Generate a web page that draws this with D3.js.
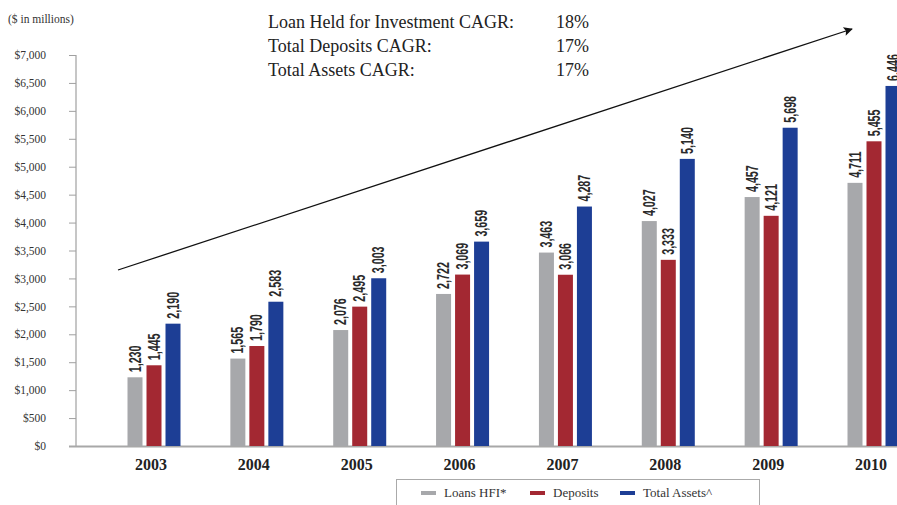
<!DOCTYPE html>
<html><head><meta charset="utf-8">
<script src="https://cdn.jsdelivr.net/npm/d3@7"></script>
<style>body{margin:0;background:#fff}svg{display:block}</style>
</head><body>
<script>
const years = ["2003","2004","2005","2006","2007","2008","2009","2010"];
const loans = [1230,1565,2076,2722,3463,4027,4457,4711];
const deposits = [1445,1790,2495,3069,3066,3333,4121,5455];
const assets = [2190,2583,3003,3659,4287,5140,5698,6446];
const seriesNames = ["Loans HFI*","Deposits","Total Assets^"];
const colors = ["#a7a8ab","#a32832","#1d3e95"];
const yTicks = [0,500,1000,1500,2000,2500,3000,3500,4000,4500,5000,5500,6000,6500,7000];
const cagrLabels = ["Loan Held for Investment CAGR:","Total Deposits CAGR:","Total Assets CAGR:"];
const cagrValues = ["18%","17%","17%"];

const W=897,H=505;
const svg=d3.select("body").append("svg").attr("width",W).attr("height",H);
const serif="'Liberation Serif','DejaVu Serif',serif";
const sans="'Liberation Sans',Arimo,sans-serif";

const y=d3.scaleLinear().domain([0,7000]).range([446,55]);
const x=d3.scalePoint().domain(years).range([154,874]);
const bw=15, step=19;
const series=[loans,deposits,assets];

// y axis
const yAxis=d3.axisLeft(y).tickValues(yTicks).tickSize(7).tickFormat(d=>"$"+d3.format(",")(d));
const ga=svg.append("g").attr("transform","translate(76,0)").call(yAxis);
ga.select(".domain").attr("stroke","#a0a0a0").attr("stroke-width",1.2).attr("d","M0,55V446");
ga.selectAll(".tick line").attr("stroke","#a0a0a0");
ga.selectAll(".tick text").attr("x",-30).attr("font-family",serif).attr("font-size",11.5).attr("fill","#333");

// baseline
svg.append("line").attr("x1",69).attr("x2",W).attr("y1",y(0)+0.5).attr("y2",y(0)+0.5).attr("stroke","#a8a8a8").attr("stroke-width",2);

// bars
series.forEach((vals,si)=>{
  const g=svg.append("g");
  g.selectAll("rect").data(vals).join("rect")
    .attr("x",(d,i)=>x(years[i])+(si-1)*step-bw/2)
    .attr("y",d=>y(d)).attr("width",bw).attr("height",d=>y(0)-y(d))
    .attr("fill",colors[si]);
  g.selectAll("text").data(vals).join("text")
    .attr("transform",(d,i)=>`translate(${x(years[i])+(si-1)*step+5.5},${y(d)-5}) rotate(-90) scale(0.67,1)`)
    .attr("font-family",sans).attr("font-size",16).attr("font-weight","bold")
    .attr("fill","#2a2a2a").text(d=>d3.format(",")(d));
});

// x labels
svg.append("g").selectAll("text").data(years).join("text")
  .attr("x",d=>x(d)-3).attr("y",470).attr("text-anchor","middle")
  .attr("font-family",serif).attr("font-weight","bold").attr("font-size",16).attr("fill","#222")
  .text(d=>d);

// unit
svg.append("text").attr("x",8).attr("y",23).attr("font-family",serif).attr("font-size",11.5).attr("fill","#333").text("($ in millions)");

// CAGR text
cagrLabels.forEach((t,i)=>{
  svg.append("text").attr("x",268).attr("y",28+i*24).attr("font-family",serif).attr("font-size",18).attr("fill","#222").text(t);
  svg.append("text").attr("x",556).attr("y",28+i*24).attr("font-family",serif).attr("font-size",18).attr("fill","#222").text(cagrValues[i]);
});

// arrow
svg.append("defs").append("marker").attr("id","ah").attr("viewBox","0 0 10 10").attr("refX",9).attr("refY",5)
  .attr("markerWidth",12).attr("markerHeight",9).attr("markerUnits","userSpaceOnUse").attr("orient","auto")
  .append("path").attr("d","M0,0L10,5L0,10L2,5Z").attr("fill","#111");
svg.append("line").attr("x1",118).attr("y1",270).attr("x2",852).attr("y2",29)
  .attr("stroke","#111").attr("stroke-width",1.3).attr("marker-end","url(#ah)");

// legend
const lg=svg.append("g");
lg.append("rect").attr("x",396.5).attr("y",479.5).attr("width",363).attr("height",40).attr("fill","#fff").attr("stroke","#aaa");
const legX=[421,530,620];
seriesNames.forEach((n,i)=>{
  lg.append("rect").attr("x",legX[i]).attr("y",491).attr("width",15).attr("height",4).attr("fill",colors[i]);
  lg.append("text").attr("x",legX[i]+23).attr("y",497).attr("font-family",serif).attr("font-size",13).attr("fill","#333").text(n);
});
</script>
</body></html>
